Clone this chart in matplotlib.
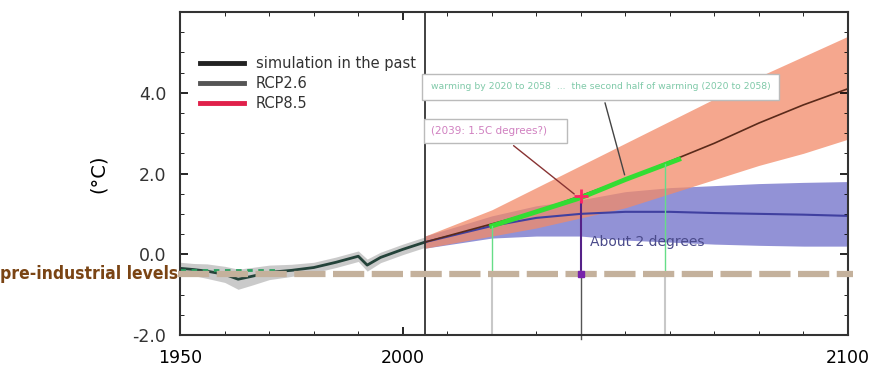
import matplotlib.pyplot as plt
import numpy as np

# historique (simulation du passé)
hist_years = [1950, 1953, 1956, 1960, 1963, 1966, 1970, 1975, 1980, 1985, 1989, 1990, 1992, 1995, 2000, 2005]
hist_mean = [-0.35, -0.38, -0.42, -0.5, -0.62, -0.55, -0.45, -0.4, -0.33, -0.2, -0.08, -0.05, -0.27, -0.08, 0.12, 0.3]
hist_spread = [0.15, 0.15, 0.18, 0.2, 0.25, 0.22, 0.18, 0.15, 0.13, 0.13, 0.13, 0.13, 0.15, 0.13, 0.13, 0.13]

# RCP8.5
rcp85_years = [2005, 2020, 2030, 2040, 2050, 2060, 2070, 2080, 2090, 2100]
rcp85_mean = [0.3, 0.75, 1.05, 1.45, 1.85, 2.3, 2.75, 3.25, 3.7, 4.1]
rcp85_low = [0.15, 0.45, 0.65, 0.9, 1.15, 1.5, 1.85, 2.2, 2.5, 2.85]
rcp85_high = [0.45, 1.1, 1.65, 2.2, 2.75, 3.3, 3.85, 4.4, 4.9, 5.4]

# RCP2.6
rcp26_years = [2005, 2020, 2030, 2040, 2050, 2060, 2070, 2080, 2090, 2100]
rcp26_mean = [0.3, 0.7, 0.9, 1.0, 1.05, 1.05, 1.02, 1.0, 0.98, 0.95]
rcp26_low = [0.15, 0.4, 0.45, 0.45, 0.35, 0.3, 0.25, 0.22, 0.2, 0.2]
rcp26_high = [0.45, 0.95, 1.2, 1.35, 1.55, 1.65, 1.7, 1.75, 1.78, 1.8]

# segment vert 2020 -> 2062
green_years = [2020, 2030, 2040, 2050, 2062]
green_vals = [0.7, 1.05, 1.4, 1.85, 2.35]

preindustrial = -0.5
year_start, year_2deg, year_end = 2020, 2040, 2059
peak_2040 = 1.45

x_ticks = [1950, 2000, 2100]
y_ticks = [-2.0, 0.0, 2.0, 4.0]

fig = plt.figure(figsize=(8.75, 3.78), dpi=100)
ax = fig.add_axes([0.206, 0.114, 0.763, 0.854])

# bandes
ax.fill_between(hist_years, np.array(hist_mean) - hist_spread, np.array(hist_mean) + hist_spread,
                color='#a8a8a8', alpha=0.6, lw=0)
ax.fill_between(rcp26_years, rcp26_low, rcp26_high, color='#7f7fcf', alpha=0.85, lw=0)
ax.fill_between(rcp85_years, rcp85_low, rcp85_high, color='#f28a68', alpha=0.75, lw=0)

# courbes
ax.plot(hist_years, hist_mean, color='#24433a', lw=2)
ax.plot([1950, 1972], [-0.38, -0.38], color='#2aa060', lw=2, ls=(0, (2, 2)))
ax.plot(rcp26_years, rcp26_mean, color='#4040a0', lw=1.5)
ax.plot(rcp85_years, rcp85_mean, color='#5a2a1a', lw=1.2)
ax.plot(green_years, green_vals, color='#33dd33', lw=3.5)

# niveau pré-industriel
ax.plot([1949.5, 2101.2], [preindustrial, preindustrial], color='#c4b19c', lw=4.5,
        ls=(0, (5, 1.2)), clip_on=False, zorder=5)
fig.text(0.0, 0.275, 'pre-industrial levels', color='#7a4414', fontsize=12.5,
         fontweight='semibold', va='center', ha='left', stretch='condensed')

# verticales
ax.axvline(2005, color='#333333', lw=1.3)
for yr in (year_start, year_end):
    ax.plot([yr, yr], [preindustrial, np.interp(yr, green_years, green_vals)], color='#66dd88', lw=1)
    ax.plot([yr, yr], [-2.0, preindustrial], color='#c8c8c8', lw=1.5)
ax.plot([year_2deg, year_2deg], [preindustrial, 1.3], color='#552288', lw=1.5)
ax.plot([year_2deg, year_2deg], [-2.1, preindustrial], color='#555555', lw=1, clip_on=False)
ax.plot(year_2deg, preindustrial, marker='s', color='#7722aa', ms=5, zorder=6)
ax.plot(year_2deg, peak_2040, marker='+', color='#ff2266', ms=10, mew=2)
ax.text(2042, 0.3, 'About 2 degrees', color='#4a4a8a', fontsize=10, va='center')

# annotations
ax.annotate('warming by 2020 to 2058  ...  the second half of warming (2020 to 2058)',
            xy=(2050, 1.9), xytext=(2006.3, 4.15), fontsize=6.7, color='#7fc9a8', va='center',
            bbox=dict(boxstyle='square,pad=0.9', fc='white', ec='#bbbbbb', lw=1),
            arrowprops=dict(arrowstyle='-', color='#444444', lw=1))
ax.annotate('(2039: 1.5C degrees?)    ', xy=(2039, 1.45), xytext=(2006.3, 3.05), fontsize=7.5,
            color='#d080c0', va='center',
            bbox=dict(boxstyle='square,pad=0.7', fc='white', ec='#bbbbbb', lw=1),
            arrowprops=dict(arrowstyle='-', color='#883333', lw=1))

ax.set_xlim(1950, 2100)
ax.set_ylim(-2.0, 6.0)
ax.set_xticks(x_ticks)
ax.set_xticklabels([str(x) for x in x_ticks], fontsize=12.5)
ax.set_yticks(y_ticks)
ax.set_yticklabels(['%.1f' % y for y in y_ticks], fontsize=12.5, color='#333333')
ax.set_yticks(np.arange(-2.0, 6.01, 0.5), minor=True)
ax.set_xticks(np.arange(1950, 2101, 10), minor=True)
ax.tick_params(direction='in', length=6, width=1.2, top=True, right=True, pad=10)
ax.tick_params(which='minor', direction='in', length=3, top=True, right=True)
for s in ax.spines.values():
    s.set_linewidth(1.5)
    s.set_color('#333333')
ax.set_ylabel('(°C)', fontsize=14, labelpad=18)

# légende
h1, = ax.plot([], [], color='#222222', lw=3.5)
h2, = ax.plot([], [], color='#555555', lw=3.5)
h3, = ax.plot([], [], color='#e0204a', lw=3.5)
ax.legend([h1, h2, h3], ['simulation in the past', 'RCP2.6', 'RCP8.5'], loc='upper left',
          bbox_to_anchor=(0.015, 0.895), frameon=False, fontsize=10.5, handlelength=3,
          labelspacing=0.35, borderaxespad=0.3, labelcolor='#333333')

plt.savefig('out.png', dpi=100, facecolor='white')
